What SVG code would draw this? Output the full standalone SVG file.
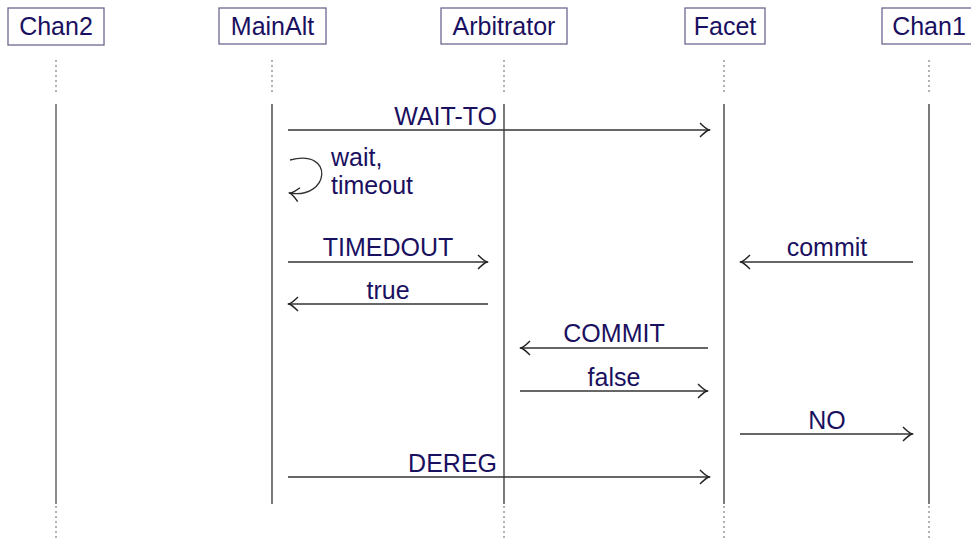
<svg xmlns="http://www.w3.org/2000/svg" width="971" height="539" viewBox="0 0 971 539">
<style>
.box{fill:#fff;stroke:#6b6890;stroke-width:1.3}
.t{font-family:"Liberation Sans",Arial,sans-serif;font-size:25px;fill:#1a1060}
.life{stroke:#222;stroke-width:1.2;fill:none}
.dot{stroke:#666;stroke-width:1;stroke-dasharray:2,3;fill:none}
.msg{stroke:#333;stroke-width:1.3;fill:none;marker-end:url(#ah)}
</style>
<defs>
<marker id="ah" markerWidth="14" markerHeight="16" refX="1" refY="0" viewBox="-12 -8 14 16" orient="auto" markerUnits="userSpaceOnUse">
<path d="M -9,-7 Q -3,-1 0,0 Q -3,1 -9,7" fill="none" stroke="#222" stroke-width="1.4"/>
</marker>
</defs>
<g id="Chan2">
<rect class="box" x="8" y="8" width="96" height="37"/>
<text class="t" x="56" y="35" text-anchor="middle">Chan2</text>
<line class="dot" x1="56" y1="60" x2="56" y2="92"/>
<line x1="56" y1="104" x2="56" y2="504" stroke="#666" stroke-width="1.5"/>
<line class="dot" x1="56" y1="506" x2="56" y2="539"/>
</g>
<g id="MainAlt">
<rect class="box" x="219" y="8" width="107" height="36"/>
<text class="t" x="272.5" y="35" text-anchor="middle">MainAlt</text>
<line class="dot" x1="272" y1="60" x2="272" y2="92"/>
<line class="life" x1="272" y1="104" x2="272" y2="504"/>
</g>
<g id="Arbitrator">
<rect class="box" x="441" y="8" width="126" height="36"/>
<text class="t" x="504" y="35" text-anchor="middle">Arbitrator</text>
<line class="dot" x1="504" y1="60" x2="504" y2="92"/>
<line class="life" x1="504" y1="104" x2="504" y2="504"/>
<line class="dot" x1="504" y1="506" x2="504" y2="539"/>
</g>
<g id="Facet">
<rect class="box" x="685" y="8" width="80" height="36"/>
<text class="t" x="725" y="35" text-anchor="middle">Facet</text>
<line class="dot" x1="724" y1="60" x2="724" y2="92"/>
<line class="life" x1="724" y1="104" x2="724" y2="504"/>
<line class="dot" x1="724" y1="506" x2="724" y2="539"/>
</g>
<g id="Chan1">
<rect class="box" x="882" y="8" width="95" height="36"/>
<text class="t" x="929" y="35" text-anchor="middle">Chan1</text>
<line class="dot" x1="929" y1="60" x2="929" y2="92"/>
<line class="life" x1="929" y1="104" x2="929" y2="504"/>
<line class="dot" x1="929" y1="506" x2="929" y2="539"/>
</g>
<g id="connectors">
<line class="msg" x1="288" y1="130" x2="710" y2="130"/>
<text class="t" x="497" y="125" text-anchor="end">WAIT-TO</text>
<path class="msg" d="M 290,160 C 335,148 330,200 289,193"/>
<text class="t" x="331" y="166">wait,</text>
<text class="t" x="331" y="194">timeout</text>
<line class="msg" x1="288" y1="262" x2="488" y2="262"/>
<text class="t" x="388" y="256" text-anchor="middle">TIMEDOUT</text>
<line class="msg" x1="488" y1="304" x2="288" y2="304"/>
<text class="t" x="388" y="299" text-anchor="middle">true</text>
<line class="msg" x1="913" y1="262" x2="740" y2="262"/>
<text class="t" x="827" y="256" text-anchor="middle">commit</text>
<line class="msg" x1="708" y1="348" x2="520" y2="348"/>
<text class="t" x="614" y="342" text-anchor="middle">COMMIT</text>
<line class="msg" x1="520" y1="391" x2="708" y2="391"/>
<text class="t" x="614" y="386" text-anchor="middle">false</text>
<line class="msg" x1="740" y1="434" x2="913" y2="434"/>
<text class="t" x="827" y="429" text-anchor="middle">NO</text>
<line class="msg" x1="288" y1="477" x2="710" y2="477"/>
<text class="t" x="497" y="472" text-anchor="end">DEREG</text>
</g>
</svg>
